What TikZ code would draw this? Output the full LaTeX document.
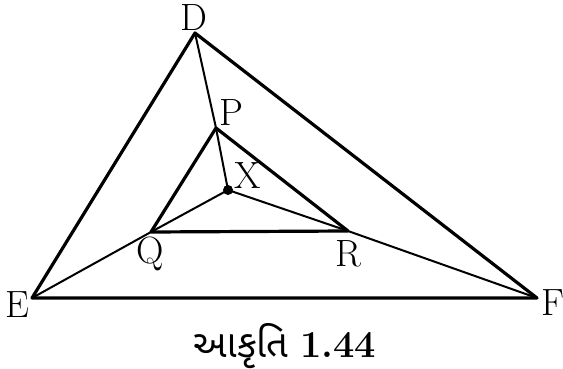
\documentclass[tikz,border=0pt]{standalone}
\usepackage{fontspec}
\newfontfamily\gujfont[Script=Gujarati]{Noto Sans Gujarati UI}
\begin{document}
\begin{tikzpicture}[x=0.5pt,y=-0.5pt,
  thickline/.style={line width=1.6pt,line join=round,line cap=round},
  thinline/.style={line width=1pt,line cap=round},
  lbl/.style={font=\fontsize{19}{22}\selectfont,inner sep=0pt}]
\useasboundingbox (0,0) rectangle (563,369);
\coordinate (D) at (195,33);
\coordinate (E) at (32,298);
\coordinate (F) at (537,298);
\coordinate (P) at (216,128);
\coordinate (Q) at (151,232);
\coordinate (R) at (348,231);
\coordinate (X) at (228,190);
\draw[thickline] (D) -- (E) -- (F) -- cycle;
\draw[thickline] (P) -- (Q) -- (R) -- cycle;
\draw[thinline] (D) -- (P) -- (X);
\draw[thinline] (Q) -- (X) -- (R);
\draw[thinline] (E) -- (Q);
\draw[thinline] (F) -- (R);
\fill (X) circle (5);
\node[lbl] (lD) at (194,18) {D};
\node[lbl] (lP) at (231,113) {P};
\node[lbl] (lX) at (248,176) {X};
\node[lbl] (lQ) at (150,254) {Q};
\node[lbl] (lR) at (348,254) {R};
\node[lbl] (lE) at (17,305) {E};
\node[lbl] (lF) at (553,303) {F};
\node[font=\fontsize{19}{22}\selectfont,inner sep=0pt] (cap) at (285,346) {{\gujfont આકૃતિ} \textbf{1.44}};
\end{tikzpicture}
\end{document}
